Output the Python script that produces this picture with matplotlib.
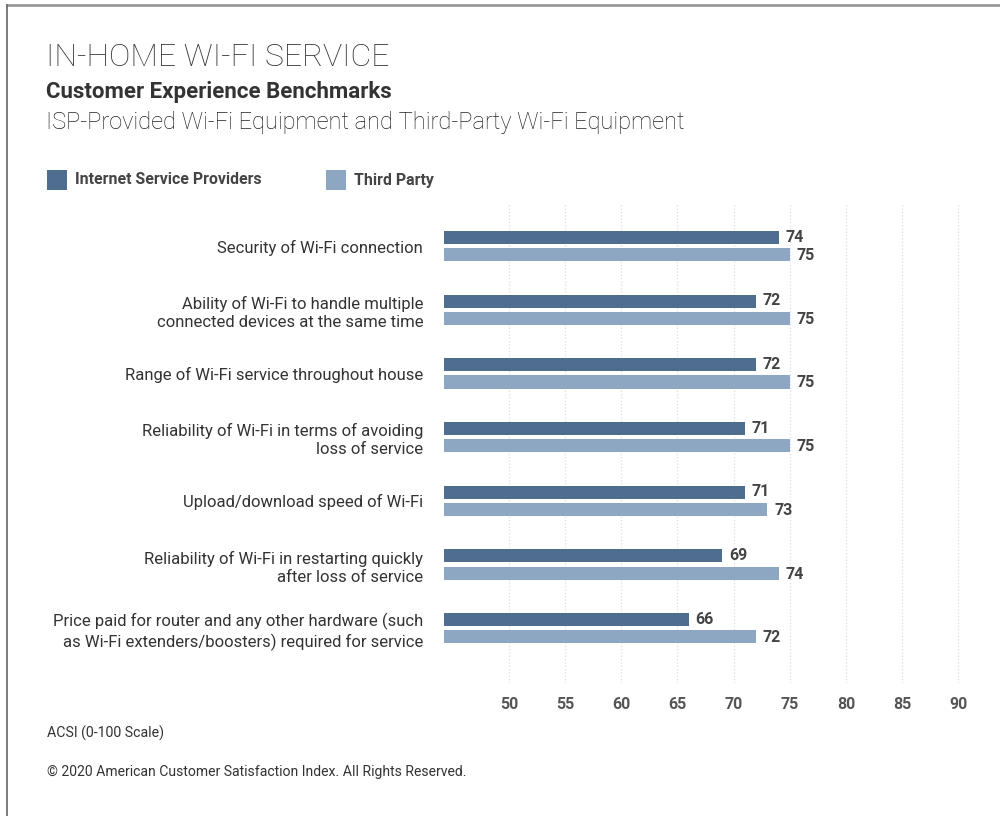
import matplotlib.pyplot as plt
import numpy as np
from matplotlib.lines import Line2D
from matplotlib.patches import Rectangle

# Données du graphique
categories = [
    "Security of Wi-Fi connection",
    "Ability of Wi-Fi to handle multiple\nconnected devices at the same time",
    "Range of Wi-Fi service throughout house",
    "Reliability of Wi-Fi in terms of avoiding\nloss of service",
    "Upload/download speed of Wi-Fi",
    "Reliability of Wi-Fi in restarting quickly\nafter loss of service",
    "Price paid for router and any other hardware (such\nas Wi-Fi extenders/boosters) required for service",
]
isp = [74, 72, 72, 71, 71, 69, 66]
third_party = [75, 75, 75, 75, 73, 74, 72]
ticks = [50, 55, 60, 65, 70, 75, 80, 85, 90]
series_names = ["Internet Service Providers", "Third Party"]

dark = '#4f6d8f'
light = '#8da7c2'
txt = '#333333'

plt.rcParams['font.family'] = ['Roboto', 'DejaVu Sans']

fig = plt.figure(figsize=(10, 8.16), dpi=100)
fig.patch.set_facecolor('white')

# Cadre gris en haut et à gauche
fig.add_artist(Line2D([0.007, 1.0], [1 - 5 / 816, 1 - 5 / 816], color='#999999', lw=2))
fig.add_artist(Line2D([0.007, 0.007], [0, 1 - 5 / 816], color='#666666', lw=1.2))

# Titres
fig.text(0.046, 1 - 57 / 816, "IN-HOME WI-FI SERVICE", fontsize=23, fontweight='light',
         color=txt, va='center')
fig.text(0.046, 1 - 92 / 816, "Customer Experience Benchmarks", fontsize=16, fontweight='bold',
         color=txt, va='center')
fig.text(0.046, 1 - 122 / 816, "ISP-Provided Wi-Fi Equipment and Third-Party Wi-Fi Equipment",
         fontsize=17, fontweight='light', color='#222222', va='center')

# Légende
for x0, col, name in [(47, dark, series_names[0]), (326, light, series_names[1])]:
    fig.add_artist(Rectangle((x0 / 1000, 1 - 190 / 816), 20 / 1000, 20 / 816,
                             facecolor=col, edgecolor='none'))
    fig.text((x0 + 28) / 1000, 1 - 180 / 816, name, fontsize=11.4, fontweight='bold',
             color='#444444', va='center')

# Axe principal
ax = fig.add_axes([444 / 1000, 1 - 683 / 816, (966 - 444) / 1000, (683 - 203) / 816])
y = np.arange(len(categories))
h = 0.205
ax.barh(y - 0.135, isp, height=h, left=0, color=dark)
ax.barh(y + 0.135, third_party, height=h, left=0, color=light)

for yi, v in zip(y, isp):
    ax.text(v + 0.6, yi - 0.14, str(v), fontsize=11.5, fontweight='bold', color='#444444',
            va='center', ha='left')
for yi, v in zip(y, third_party):
    ax.text(v + 0.6, yi + 0.15, str(v), fontsize=11.5, fontweight='bold', color='#444444',
            va='center', ha='left')

ax.set_xlim(44.2, 90.7)
ax.set_ylim(6.86, -0.675)
ax.set_xticks(ticks)
ax.set_xticklabels([str(t) for t in ticks], fontsize=11.5, fontweight='bold', color='#555555')
ax.tick_params(axis='x', length=0, pad=10)
ax.set_yticks(y)
ax.set_yticklabels(categories, fontsize=12, color=txt, linespacing=1.25)
ax.tick_params(axis='y', length=0, pad=15)
ax.grid(axis='x', color='#dddddd', linestyle=':', linewidth=0.9)
ax.set_axisbelow(True)
for s in ax.spines.values():
    s.set_visible(False)

# Notes de bas de page
fig.text(0.047, 1 - 733 / 816, "ACSI (0-100 Scale)", fontsize=10.2, color=txt, va='center')
fig.text(0.047, 1 - 772 / 816, "© 2020 American Customer Satisfaction Index. All Rights Reserved.",
         fontsize=10.1, color=txt, va='center')

fig.savefig('out.png', dpi=100, facecolor='white')
